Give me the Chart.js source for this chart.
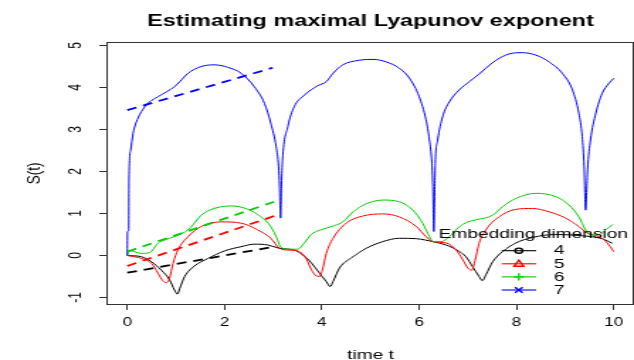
<!DOCTYPE html>
<html><head><meta charset="utf-8">
<script src="https://cdn.jsdelivr.net/npm/chart.js@4/dist/chart.umd.min.js"></script>
<style>
html,body{margin:0;padding:0;background:#fff;overflow:hidden}
#c{transform:scaleX(1.41834);transform-origin:0 0;}
</style></head><body>
<canvas id="c" width="447" height="360"></canvas>
<script>
// ---- text ----
const titleText = 'Estimating maximal Lyapunov exponent';
const xTitle = 'time t';
const yTitle = 'S(t)';
const legendTitle = 'Embedding dimension';
const dims = ['4', '5', '6', '7'];
const xTicks = [0, 2, 4, 6, 8, 10];
const yTicks = [-1, 0, 1, 2, 3, 4, 5];

// ---- series: embedding dimension 4 ----
const t4 = [0, 0.29, 0.50, 0.70, 0.87, 0.97, 1.03, 1.08, 1.18, 1.38, 1.66, 2.00, 2.34, 2.61, 2.89, 3.13, 3.43, 3.60, 3.78, 3.95, 4.09, 4.17, 4.23, 4.36, 4.64, 4.91, 5.25, 5.59, 5.94, 6.28, 6.55, 6.82, 6.96, 7.10, 7.23, 7.30, 7.37, 7.51, 7.71, 7.99, 8.33, 8.80, 9.35, 9.76, 9.97];
const s4 = [0, -0.03, -0.15, -0.35, -0.58, -0.82, -0.92, -0.78, -0.50, -0.25, -0.07, 0.11, 0.21, 0.27, 0.25, 0.17, 0.13, 0.02, -0.17, -0.42, -0.62, -0.74, -0.62, -0.30, -0.03, 0.17, 0.33, 0.41, 0.40, 0.33, 0.25, 0.10, -0.03, -0.27, -0.50, -0.60, -0.46, -0.15, 0.09, 0.30, 0.43, 0.50, 0.47, 0.40, 0.29];
// ---- dimension 5 ----
const t5 = [0, 0.29, 0.50, 0.63, 0.73, 0.80, 0.87, 0.94, 1.04, 1.25, 1.52, 1.93, 2.34, 2.68, 2.95, 3.13, 3.30, 3.50, 3.68, 3.78, 3.89, 3.95, 4.01, 4.09, 4.23, 4.50, 4.84, 5.25, 5.59, 5.94, 6.14, 6.28, 6.55, 6.76, 6.89, 7.00, 7.08, 7.15, 7.23, 7.37, 7.64, 7.99, 8.33, 8.67, 9.01, 9.28, 9.46, 9.69, 9.84, 10.0];
const s5 = [0, -0.07, -0.19, -0.42, -0.60, -0.65, -0.54, -0.19, 0.13, 0.45, 0.69, 0.80, 0.77, 0.61, 0.41, 0.17, 0.13, 0.11, -0.08, -0.33, -0.49, -0.50, -0.35, 0.05, 0.41, 0.77, 0.94, 0.99, 0.92, 0.69, 0.45, 0.33, 0.30, 0.13, -0.09, -0.30, -0.35, -0.11, 0.29, 0.61, 0.92, 1.10, 1.12, 1.04, 0.89, 0.69, 0.53, 0.45, 0.33, 0.09];
// ---- dimension 6 ----
const t6 = [0, 0.03, 0.29, 0.46, 0.63, 0.77, 0.97, 1.25, 1.35, 1.52, 1.79, 2.14, 2.48, 2.75, 2.95, 3.09, 3.15, 3.33, 3.50, 3.64, 3.78, 3.95, 4.23, 4.43, 4.64, 4.91, 5.25, 5.59, 5.87, 6.07, 6.21, 6.28, 6.45, 6.62, 6.82, 7.00, 7.17, 7.51, 7.71, 7.99, 8.40, 8.81, 9.08, 9.28, 9.42, 9.53, 9.69, 9.83, 9.98];
const s6 = [0, 0.12, 0.05, 0.07, 0.29, 0.37, 0.45, 0.61, 0.73, 0.96, 1.12, 1.18, 1.10, 0.92, 0.69, 0.37, 0.20, 0.15, 0.15, 0.30, 0.50, 0.60, 0.70, 0.80, 1.04, 1.23, 1.32, 1.28, 1.08, 0.77, 0.45, 0.33, 0.33, 0.45, 0.68, 0.80, 0.85, 0.96, 1.16, 1.36, 1.48, 1.40, 1.20, 0.92, 0.61, 0.49, 0.49, 0.61, 0.74];
// ---- dimension 7 ----
const t7 = [0, 0.005, 0.03, 0.035, 0.07, 0.12, 0.22, 0.36, 0.46, 0.63, 0.97, 1.08, 1.25, 1.52, 1.79, 2.07, 2.34, 2.61, 2.82, 2.95, 3.06, 3.11, 3.13, 3.15, 3.17, 3.19, 3.30, 3.43, 3.64, 3.91, 4.09, 4.23, 4.43, 4.77, 5.05, 5.32, 5.59, 5.80, 6.00, 6.14, 6.21, 6.26, 6.28, 6.30, 6.32, 6.33, 6.38, 6.48, 6.62, 6.82, 7.03, 7.23, 7.37, 7.58, 7.85, 8.12, 8.40, 8.67, 8.94, 9.15, 9.28, 9.35, 9.39, 9.42, 9.44, 9.46, 9.52, 9.63, 9.76, 9.90, 10.0];
const s7 = [0, 0.57, 0.60, 1.80, 2.51, 2.91, 3.27, 3.54, 3.66, 3.78, 4.02, 4.14, 4.34, 4.50, 4.54, 4.48, 4.34, 4.02, 3.62, 3.15, 2.59, 2.11, 1.64, 0.89, 1.70, 2.27, 3.07, 3.54, 3.82, 4.04, 4.14, 4.34, 4.54, 4.65, 4.67, 4.61, 4.46, 4.22, 3.78, 3.23, 2.75, 2.19, 1.64, 0.57, 1.64, 2.19, 2.75, 3.30, 3.66, 3.94, 4.14, 4.32, 4.46, 4.65, 4.80, 4.83, 4.77, 4.61, 4.34, 3.94, 3.39, 2.83, 2.11, 1.08, 1.50, 2.04, 2.75, 3.39, 3.86, 4.10, 4.22];

// ---- fitted straight lines (dashed) ----
const fitT = [0, 3.02];
const fit4 = [-0.41, 0.21];
const fit5 = [-0.25, 0.94];
const fit6 = [0.09, 1.28];
const fitT7 = [0, 2.99];
const fit7 = [3.46, 4.47];

// ---- styles ----
const colors = ['#000000', '#FF0000', '#00CD00', '#0000FF'];
const FONT = '"Liberation Sans", Arial, Helvetica, sans-serif';
const tSeries = [t4, t5, t6, t7];
const sSeries = [s4, s5, s6, s7];
const fitTs = [fitT, fitT, fitT, fitT7];
const fitSs = [fit4, fit5, fit6, fit7];

const pts = (ts, ss) => ts.map((x, i) => ({x: x, y: ss[i]}));

const datasets = [];
for (let i = 0; i < 4; i++) {
  datasets.push({
    label: dims[i], data: pts(tSeries[i], sSeries[i]),
    borderColor: colors[i], borderWidth: 1, pointRadius: 0,
    cubicInterpolationMode: 'monotone', fill: false, order: 10 - i
  });
}
for (let i = 0; i < 4; i++) {
  datasets.push({
    label: 'fit ' + dims[i], data: pts(fitTs[i], fitSs[i]),
    borderColor: colors[i], borderWidth: 1.8, borderDash: [7, 5], pointRadius: 0,
    fill: false, order: 1
  });
}

function drawSymbol(ctx, k, x, y, col) {
  ctx.save();
  ctx.strokeStyle = col; ctx.lineWidth = 1.4;
  ctx.beginPath();
  if (k === 0) { ctx.arc(x, y, 2.6, 0, Math.PI * 2); }
  else if (k === 1) { ctx.moveTo(x, y - 3.6); ctx.lineTo(x + 3.4, y + 2.4); ctx.lineTo(x - 3.4, y + 2.4); ctx.closePath(); }
  else if (k === 2) { ctx.moveTo(x - 3.6, y); ctx.lineTo(x + 3.6, y); ctx.moveTo(x, y - 3.6); ctx.lineTo(x, y + 3.6); }
  else { ctx.moveTo(x - 2.7, y - 2.7); ctx.lineTo(x + 2.7, y + 2.7); ctx.moveTo(x - 2.7, y + 2.7); ctx.lineTo(x + 2.7, y - 2.7); }
  ctx.stroke();
  ctx.restore();
}

const rPlot = {
  id: 'rPlot',
  afterDatasetsDraw(chart) {
    const ctx = chart.ctx;
    // legend (no box)
    const lg = {titleX: 376, titleY: 234, x0: 353.7, x1: 378, sx: 365.8, lx: 390.5, y0: 250.7, dy: 13.1};
    ctx.save();
    ctx.font = '13.5px ' + FONT;
    ctx.fillStyle = '#000';
    ctx.textAlign = 'center'; ctx.textBaseline = 'middle';
    ctx.fillText(legendTitle, lg.titleX, lg.titleY);
    for (let i = 0; i < 4; i++) {
      const y = lg.y0 + i * lg.dy;
      ctx.strokeStyle = colors[i]; ctx.lineWidth = 1.1;
      ctx.beginPath(); ctx.moveTo(lg.x0, y); ctx.lineTo(lg.x1, y); ctx.stroke();
      drawSymbol(ctx, i, lg.sx, y, colors[i]);
      ctx.fillStyle = '#000'; ctx.textAlign = 'left';
      ctx.fillText(dims[i], lg.lx, y);
    }
    ctx.restore();
  },
  afterDraw(chart) {
    const ctx = chart.ctx, a = chart.chartArea;
    ctx.save();
    // box
    ctx.strokeStyle = '#333'; ctx.lineWidth = 1;
    ctx.strokeRect(Math.round(a.left) - 0.5, Math.round(a.top) - 0.5, Math.round(a.right - a.left), Math.round(a.bottom - a.top) + 1);
    // title
    const cx = (a.left + a.right) / 2;
    ctx.fillStyle = '#000';
    ctx.textAlign = 'center'; ctx.textBaseline = 'alphabetic';
    ctx.font = 'bold 16.5px ' + FONT;
    ctx.fillText(titleText, cx, 25.5);
    // x title
    ctx.font = '13.5px ' + FONT;
    ctx.fillText(xTitle, cx, 358.5);
    // y title
    ctx.save();
    ctx.translate(27.5, (a.top + a.bottom) / 2);
    ctx.rotate(-Math.PI / 2);
    ctx.fillText(yTitle, 0, 0);
    ctx.restore();
    // y tick labels (parallel to axis)
    const ys = chart.scales.y;
    ctx.font = '12px ' + FONT;
    yTicks.forEach(v => {
      ctx.save();
      ctx.translate(56.5, ys.getPixelForValue(v));
      ctx.rotate(-Math.PI / 2);
      ctx.fillText(String(v), 0, 0);
      ctx.restore();
    });
    ctx.restore();
  }
};

new Chart(document.getElementById('c'), {
  type: 'line',
  data: {datasets: datasets},
  options: {
    responsive: false, animation: false, devicePixelRatio: 1,
    layout: {padding: {top: 43, right: 0.5, left: 0, bottom: 0}},
    plugins: {legend: {display: false}, title: {display: false}, tooltip: {enabled: false}},
    scales: {
      x: {
        type: 'linear', min: -0.4, max: 10.4,
        afterFit: s => { s.height = 56; },
        afterBuildTicks: s => { s.ticks = xTicks.map(v => ({value: v})); },
        grid: {display: true, drawOnChartArea: false, drawTicks: true, tickLength: 6, color: '#333', lineWidth: 1},
        border: {display: false},
        ticks: {font: {family: FONT, size: 12}, color: '#000', padding: 5, maxRotation: 0, autoSkip: false}
      },
      y: {
        type: 'linear', min: -1.155, max: 5.06,
        afterFit: s => { s.width = 76; },
        afterBuildTicks: s => { s.ticks = yTicks.map(v => ({value: v})); },
        grid: {display: true, drawOnChartArea: false, drawTicks: true, tickLength: 6, color: '#333', lineWidth: 1},
        border: {display: false},
        ticks: {display: false}
      }
    }
  },
  plugins: [rPlot]
});
</script>
</body></html>
